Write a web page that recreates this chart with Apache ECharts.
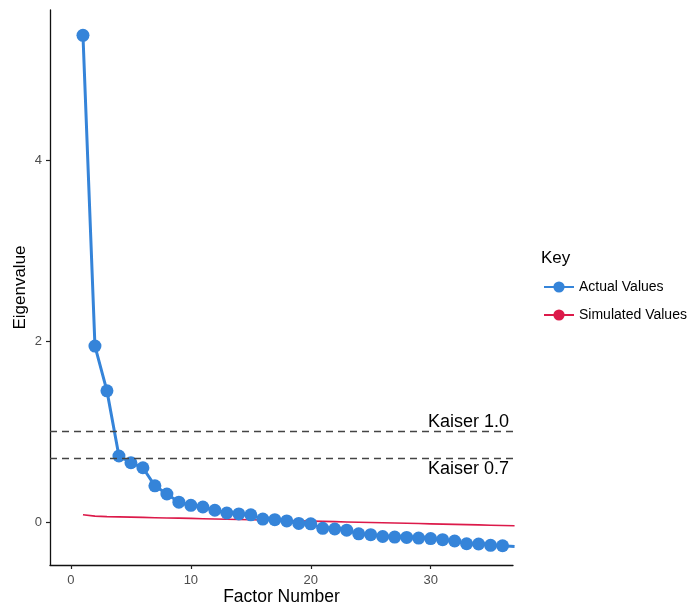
<!DOCTYPE html>
<html>
<head>
<meta charset="utf-8">
<script src="https://cdn.jsdelivr.net/npm/echarts@6/dist/echarts.min.js"></script>
<style>html,body{margin:0;padding:0;background:#fff;}#c{width:690px;height:610px;}</style>
</head>
<body>
<div id="c"></div>
<script>
const factors = [1,2,3,4,5,6,7,8,9,10,11,12,13,14,15,16,17,18,19,20,21,22,23,24,25,26,27,28,29,30,31,32,33,34,35,36,37];
const actualValues = [5.38,1.945,1.45,0.73,0.655,0.60,0.40,0.31,0.22,0.185,0.166,0.13,0.10,0.09,0.08,0.033,0.026,0.012,-0.015,-0.02,-0.07,-0.077,-0.09,-0.13,-0.14,-0.16,-0.166,-0.17,-0.177,-0.183,-0.195,-0.21,-0.24,-0.243,-0.258,-0.262,-0.27];
const simulatedValues = [0.08,0.065,0.06,0.057,0.054,0.051,0.048,0.045,0.043,0.04,0.037,0.034,0.031,0.028,0.025,0.022,0.019,0.016,0.013,0.01,0.007,0.004,0.001,-0.002,-0.005,-0.008,-0.011,-0.014,-0.017,-0.02,-0.023,-0.026,-0.029,-0.032,-0.035,-0.038,-0.041];
const xTicks = [0,10,20,30];
const yTicks = [0,2,4];
const kaiserLines = [1.0, 0.7];
const kaiserLabels = ['Kaiser 1.0','Kaiser 0.7'];
const seriesNames = ['Actual Values','Simulated Values'];

const FONT = 'Liberation Sans, Arial, sans-serif';
const chart = echarts.init(document.getElementById('c'), null, {renderer:'canvas'});
chart.setOption({
  animation: false,
  backgroundColor: '#fff',
  title: {
    text: 'Key', left: 536, top: 245,
    textStyle: {fontFamily: FONT, fontSize: 17, fontWeight: 'normal', color: '#000'}
  },
  legend: {
    orient: 'vertical', left: 538, top: 275,
    itemWidth: 30, itemHeight: 14, itemGap: 14,
    textStyle: {fontFamily: FONT, fontSize: 14, color: '#000'},
    data: seriesNames
  },
  grid: {left: 50, right: 177, top: 10, bottom: 45, containLabel: false, outerBoundsMode: 'none'},
  xAxis: {
    type: 'value', min: -1.75, max: 36.87,
    name: 'Factor Number', nameLocation: 'middle', nameGap: 23, nameMoveOverlap: false,
    nameTextStyle: {fontFamily: FONT, fontSize: 17.5, color: '#000'},
    axisLine: {show: true, onZero: false, lineStyle: {color: '#111', width: 1.3}},
    axisTick: {show: true, inside: false, length: 4, lineStyle: {color: '#222', width: 1.2}, customValues: xTicks},
    axisLabel: {fontFamily: FONT, fontSize: 13, color: '#4d4d4d', margin: 9, customValues: xTicks},
    splitLine: {show: false}
  },
  yAxis: {
    type: 'value', min: -0.475, max: 5.66,
    name: 'Eigenvalue', nameLocation: 'middle', nameGap: 21, nameRotate: 90, nameMoveOverlap: false,
    nameTextStyle: {fontFamily: FONT, fontSize: 17, color: '#000'},
    axisLine: {show: true, onZero: false, lineStyle: {color: '#111', width: 1.3}},
    axisTick: {show: true, inside: false, length: 4, lineStyle: {color: '#222', width: 1.2}, customValues: yTicks},
    axisLabel: {fontFamily: FONT, fontSize: 13, color: '#4d4d4d', margin: 8, customValues: yTicks},
    splitLine: {show: false}
  },
  series: [
    {
      name: seriesNames[0], type: 'line',
      data: factors.map((f,i)=>[f, actualValues[i]]),
      symbol: 'circle', symbolSize: 13,
      itemStyle: {color: '#3584d9'},
      lineStyle: {color: '#3584d9', width: 3},
      z: 3,
      markLine: {
        silent: true, symbol: 'none',
        lineStyle: {color: '#444', type: [7,5], width: 1.3},
        data: kaiserLines.map((v,i)=>({
          yAxis: v,
          label: {
            show: true, formatter: kaiserLabels[i],
            position: i === 0 ? 'insideEndTop' : 'insideEndBottom',
            fontFamily: FONT, fontSize: 18, color: '#000', distance: [4, 1]
          }
        }))
      }
    },
    {
      name: seriesNames[1], type: 'line',
      data: factors.map((f,i)=>[f, simulatedValues[i]]),
      symbol: 'circle', symbolSize: 13, showSymbol: false,
      itemStyle: {color: '#dc1a4a'},
      lineStyle: {color: '#dc1a4a', width: 1.6},
      z: 2
    }
  ]
});
</script>
</body>
</html>
